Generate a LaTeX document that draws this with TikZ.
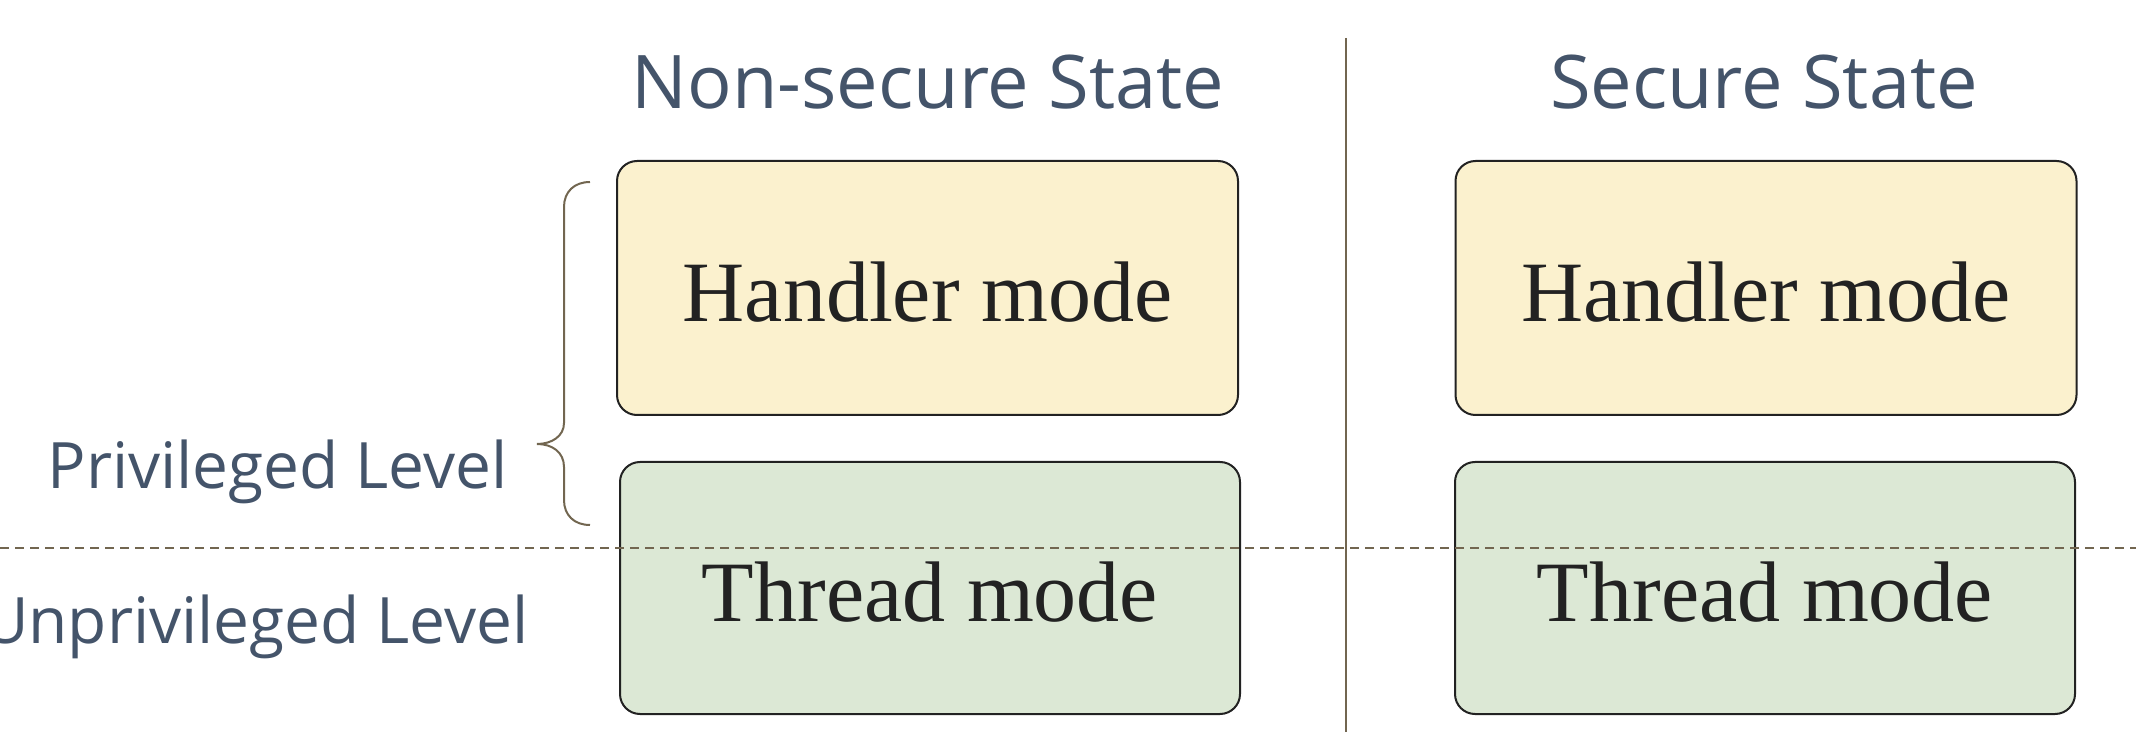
\documentclass[tikz,border=0pt]{standalone}
\usepackage{fontspec}
\setmainfont{Liberation Serif}
\newfontfamily\labelfont{Open Sans}
\definecolor{slate}{HTML}{44546A}
\definecolor{linec}{HTML}{726650}
\definecolor{handlerfill}{HTML}{FBF1CE}
\definecolor{threadfill}{HTML}{DCE8D5}
\definecolor{boxtext}{HTML}{222222}
\tikzset{
  modebox/.style={draw=boxtext, line width=1pt, rounded corners=10pt, inner sep=0pt,
    text=boxtext, font=\fontsize{43}{50}\selectfont},
  handlerbox/.style={modebox, fill=handlerfill, minimum width=310.5pt, minimum height=127pt},
  threadbox/.style={modebox, fill=threadfill, minimum width=310pt, minimum height=126pt},
  modetext/.style={modebox, draw=none},
  titletext/.style={text=slate, font=\labelfont\fontsize{37}{44}\selectfont, inner sep=0pt, anchor=base},
  leveltext/.style={text=slate, font=\labelfont\fontsize{32}{38}\selectfont, inner sep=0pt, anchor=base east},
  guide/.style={draw=linec, line width=1.1pt},
}
\begin{document}
\begin{tikzpicture}[x=0.5pt, y=-0.5pt]
\useasboundingbox (0,0) rectangle (2136,732);
% dashed level separator
\coordinate (dl) at (0,548);
\coordinate (dr) at (2136,548);
% vertical separator
\coordinate (vt) at (1346,38);
\coordinate (vb) at (1346,732);
\draw[guide] (vt) -- (vb);
% boxes
\node[handlerbox] (hl) at (927.5,288) {};
\node[threadbox] (tl) at (930,588) {};
\node[handlerbox] (hr) at (1766,288) {};
\node[threadbox] (tr) at (1765,588) {};
\node[modetext] (hltext) at ([yshift=-2pt]hl.center) {Handler mode};
\node[modetext] (tltext) at ([yshift=-2pt]tl.center) {Thread mode};
\node[modetext] (hrtext) at ([yshift=-2pt]hr.center) {Handler mode};
\node[modetext] (trtext) at ([yshift=-2pt]tr.center) {Thread mode};
\draw[guide, line width=1pt, dash pattern=on 4.5pt off 3pt] (dl) -- (dr);
% titles
\node[titletext] (nst) at (928,109) {Non-secure State};
\node[titletext] (sst) at (1764,109) {Secure State};
% level labels
\node[leveltext] (pl) at (508,488) {Privileged Level};
\node[leveltext] (ul) at (529,643) {Unprivileged Level};
% brace
\coordinate (bt) at (590,182);
\coordinate (bb) at (590,525);
\draw[guide, line width=1pt] (bt) .. controls (574,182) and (564,192) .. (564,207) -- (564,423)
  .. controls (564,436) and (552,444) .. (537,444)
  .. controls (552,444) and (564,452) .. (564,467) -- (564,500)
  .. controls (564,515) and (574,525) .. (bb);
\end{tikzpicture}
\end{document}
